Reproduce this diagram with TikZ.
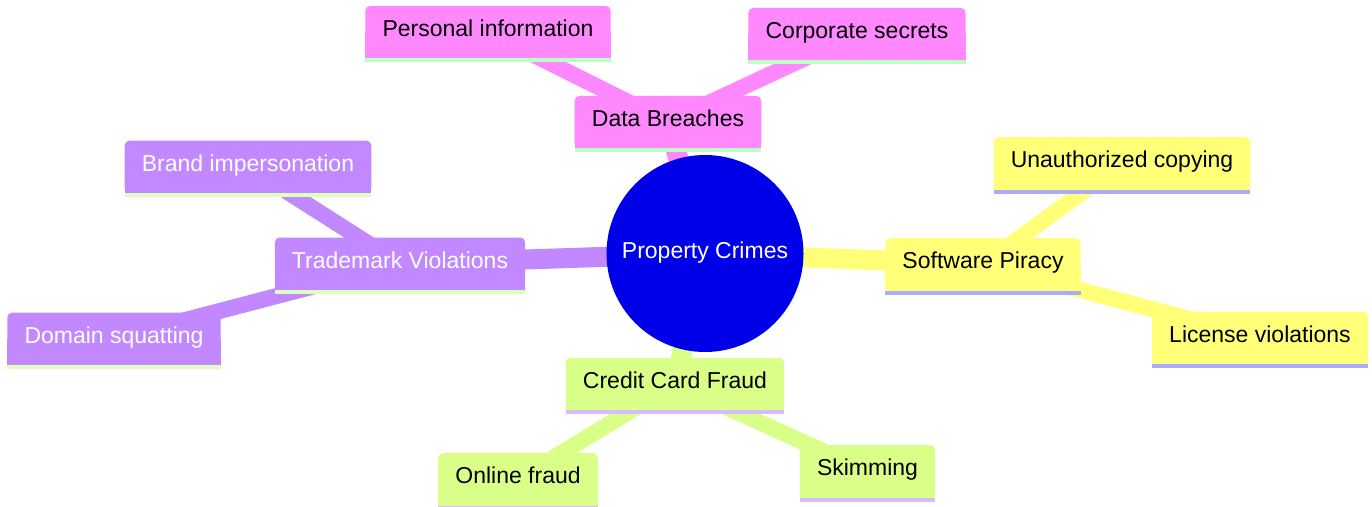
\documentclass[tikz,border=0pt]{standalone}
\usepackage{fontspec}
\setmainfont{Liberation Sans}
\usetikzlibrary{backgrounds}

\definecolor{rootblue}{RGB}{0,0,232}
\definecolor{pinkfill}{RGB}{255,136,255}
\definecolor{pinkline}{RGB}{188,255,196}
\definecolor{purplefill}{RGB}{194,136,255}
\definecolor{purpleline}{RGB}{221,255,188}
\definecolor{yellowfill}{RGB}{255,255,120}
\definecolor{yellowline}{RGB}{170,170,255}
\definecolor{greenfill}{RGB}{217,255,136}
\definecolor{greenline}{RGB}{214,188,255}

\begin{document}
\begin{tikzpicture}[x=1pt,y=-1pt,
  topic/.style={font=\fontsize{23}{27}\selectfont, inner xsep=17pt, inner ysep=0pt,
    minimum height=52pt, text height=17pt, text depth=8pt},
  trunk/.style={line width=20pt},
  twig/.style={line width=16pt}]
\useasboundingbox (0,0) rectangle (1372,506);

\node[circle, fill=rootblue, minimum size=197pt, inner sep=0pt, text=white,
  font=\fontsize{23}{27}\selectfont, text height=17pt, text depth=8pt] (root) at (705,253.5) {Property Crimes};

\node[topic] (db) at (668,122) {Data Breaches};
\node[topic] (pi) at (488,32) {Personal information};
\node[topic] (cs) at (857,34) {Corporate secrets};

\node[topic, text=white] (tv) at (400,263.7) {Trademark Violations};
\node[topic, text=white] (bi) at (248,166.7) {Brand impersonation};
\node[topic, text=white] (ds) at (114,338.7) {Domain squatting};

\node[topic] (sp) at (983,264.3) {Software Piracy};
\node[topic] (uc) at (1122,163.3) {Unauthorized copying};
\node[topic] (lv) at (1260,337.7) {License violations};

\node[topic] (cc) at (675,384) {Credit Card Fraud};
\node[topic] (of) at (518,479.3) {Online fraud};
\node[topic] (sk) at (867.5,471.3) {Skimming};

\begin{pgfonlayer}{background}
\draw[trunk, pinkfill] (root.center) -- (db.center);
\draw[trunk, purplefill] (root.center) -- (tv.center);
\draw[trunk, yellowfill] (root.center) -- (sp.center);
\draw[trunk, greenfill] (root.center) -- (cc.center);

\draw[twig, pinkfill] (db.center) -- (pi.center);
\draw[twig, pinkfill] (db.center) -- (cs.center);
\draw[twig, purplefill] (tv.center) -- (bi.center);
\draw[twig, purplefill] (tv.center) -- (ds.center);
\draw[twig, yellowfill] (sp.center) -- (uc.center);
\draw[twig, yellowfill] (sp.center) -- (lv.center);
\draw[twig, greenfill] (cc.center) -- (of.center);
\draw[twig, greenfill] (cc.center) -- (sk.center);

% boxes: rounded on top, square at the bottom, with a coloured rule under them
\foreach \n/\f/\u in {db/pinkfill/pinkline, pi/pinkfill/pinkline, cs/pinkfill/pinkline,
    tv/purplefill/purpleline, bi/purplefill/purpleline, ds/purplefill/purpleline,
    sp/yellowfill/yellowline, uc/yellowfill/yellowline, lv/yellowfill/yellowline,
    cc/greenfill/greenline, of/greenfill/greenline, sk/greenfill/greenline} {
  \fill[\f, rounded corners=5pt] (\n.south west) rectangle (\n.north east);
  \fill[\f] (\n.south west) rectangle (\n.east);
  \fill[\u] (\n.south west) rectangle ([yshift=-4pt]\n.south east);
}
\end{pgfonlayer}
\end{tikzpicture}
\end{document}
